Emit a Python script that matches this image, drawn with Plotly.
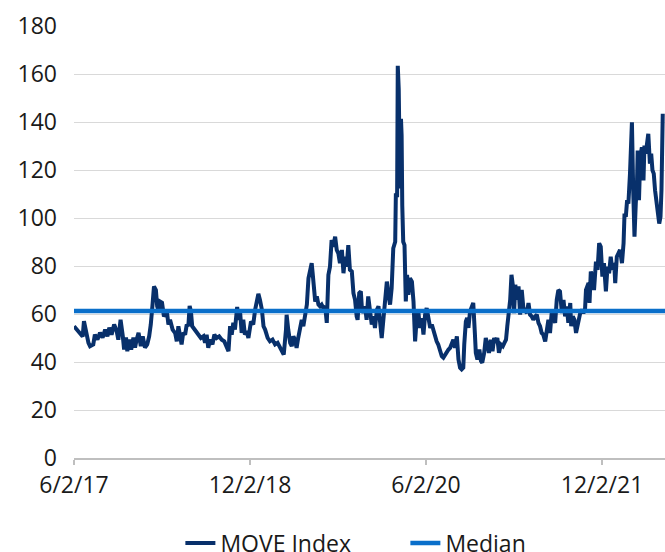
import pandas as pd
import plotly.graph_objects as go

# MOVE Index: days since 2017-06-02 and index level
start_date = "2017-06-02"
end_date = "2022-06-16"

day_offsets = [
    0, 8, 19, 27, 31, 37, 45, 50, 60, 65, 73, 81, 89, 97, 104, 110, 117, 125, 133, 138,
    145, 152, 156, 162, 166, 172, 178, 185, 190, 195, 201, 208, 214, 221, 228, 234, 239,
    245, 249, 255, 259, 264, 268, 274, 280, 289, 294, 299, 307, 315,
    320, 325, 330, 335, 340, 346, 351, 356, 360, 364, 368, 375, 382, 389, 395, 403, 408,
    413, 418, 424, 431, 437, 444, 452, 460, 468, 476, 481, 486, 491, 496, 501, 508, 512,
    517, 522, 527, 532, 538, 543, 551, 558, 564, 569, 574, 579, 585, 590, 595, 603, 610,
    618, 626, 634, 641, 649, 653,
    660, 662, 667, 673, 678, 683, 688, 693, 698, 704, 709, 714, 719, 725, 730, 735, 740,
    743, 747, 751, 756, 761, 766, 771, 776, 782, 787, 792, 797, 802, 807, 813, 818, 823,
    828, 834, 839, 844, 849, 854, 859, 865, 870, 875, 880, 883, 888, 893, 896, 901, 906,
    911, 916, 922, 927, 932, 937, 943, 948,
    958, 963, 968, 974, 979, 984, 989, 994, 1000, 1002, 1006, 1008, 1011, 1013, 1015,
    1018, 1020, 1022, 1025, 1029, 1033, 1037, 1041, 1046, 1052, 1057, 1062, 1067, 1072,
    1077, 1083, 1088, 1093, 1098, 1103, 1109, 1114, 1119, 1124, 1129, 1134, 1140, 1145,
    1150, 1155, 1161, 1166, 1171, 1176, 1181, 1186, 1192, 1197, 1202, 1207, 1212, 1215,
    1220, 1224, 1228, 1233, 1238, 1243,
    1248, 1251, 1256, 1262, 1267, 1271, 1277, 1282, 1287, 1292, 1298, 1303, 1308, 1313,
    1318, 1323, 1329, 1335, 1340, 1345, 1349, 1354, 1358, 1362, 1366, 1370, 1374, 1379,
    1384, 1389, 1394, 1399, 1404, 1410, 1415, 1420, 1425, 1430, 1436, 1441, 1446, 1451,
    1456, 1461, 1467, 1472, 1477, 1482, 1488, 1493, 1498, 1503, 1508, 1513, 1519, 1524,
    1529,
    1534, 1539, 1545, 1548, 1553, 1558, 1563, 1569, 1576, 1581, 1586, 1591, 1594, 1598,
    1602, 1605, 1609, 1614, 1619, 1625, 1630, 1635, 1640, 1645, 1650, 1656, 1661, 1666,
    1671, 1676, 1682, 1685, 1690, 1695, 1700, 1706, 1711, 1714, 1718, 1722, 1726, 1731,
    1734, 1737, 1741, 1745, 1749, 1753, 1755, 1759, 1763, 1768, 1773, 1776, 1780, 1783,
    1788, 1793, 1797, 1801, 1805, 1809, 1813, 1818, 1822, 1826, 1829, 1833,
]

move_values = [
    54.9, 53.5, 51.4, 50.6, 57.0, 52.8, 48.0, 46.6, 47.3, 51.4, 49.3, 52.2, 50.2, 53.5,
    50.7, 54.3, 51.4, 55.6, 52.8, 49.3, 57.6, 50.7, 45.2, 50.2, 44.5, 49.3, 45.2, 50.2,
    46.0, 49.3, 52.2, 46.6, 50.7, 46.0, 47.3, 50.7, 55.6, 64.7, 71.5, 70.0, 63.2, 61.1,
    65.2, 64.7, 59.0, 61.1, 55.6, 57.6, 53.5, 52.0,
    48.6, 54.9, 51.4, 47.3, 52.2, 51.4, 55.6, 54.9, 63.4, 61.1, 54.9, 53.5, 52.8, 51.4,
    50.0, 50.7, 48.0, 51.4, 45.9, 49.3, 47.3, 51.4, 50.0, 50.7, 49.3, 48.6, 45.9, 44.5,
    54.9, 51.4, 56.3, 53.5, 62.9, 57.6, 61.1, 52.1, 57.6, 51.4, 52.8, 50.0, 56.9, 55.6,
    61.8, 66.6, 68.4, 65.9, 61.8, 54.9, 53.5, 50.0, 48.6, 49.3, 47.3, 48.0, 45.9, 44.5,
    43.1,
    53.5, 59.7, 53.5, 48.0, 46.6, 50.7, 49.3, 45.9, 50.0, 53.5, 57.6, 54.9, 59.0, 63.9,
    74.9, 78.4, 81.2, 77.0, 71.5, 65.2, 67.3, 63.9, 63.2, 63.9, 62.5, 63.2, 56.3, 76.3,
    79.7, 90.8, 88.0, 92.2, 86.7, 85.3, 81.2, 86.7, 77.0, 83.9, 79.7, 88.7, 78.4, 77.7,
    68.7, 65.9, 59.0, 57.6, 68.7, 69.4, 63.2, 60.4, 63.2, 57.6, 67.3, 61.8, 55.6, 59.0,
    54.2, 61.8, 63.2,
    50.0, 56.9, 66.6, 73.5, 68.0, 63.9, 70.8, 87.4, 90.1, 109.5, 109.5, 163.4, 153.7,
    139.9, 112.3, 141.3, 134.4, 105.3, 90.1, 88.7, 65.2, 76.3, 68.0, 74.9, 73.5, 65.2,
    48.6, 58.3, 61.1, 54.2, 58.3, 51.4, 59.7, 62.5, 58.3, 54.2, 55.6, 52.8, 51.4, 48.6,
    47.3, 44.5, 42.4, 41.8, 43.1, 43.8, 45.2, 45.9, 47.3, 49.3, 45.9, 50.7, 41.0, 37.6,
    36.9, 37.6, 47.3, 56.9, 58.3, 54.2, 61.1, 62.5, 64.6,
    52.1, 43.8, 41.0, 45.2, 40.4, 39.7, 43.8, 50.0, 47.3, 43.8, 49.3, 44.5, 50.0, 48.0,
    50.0, 43.8, 47.3, 46.6, 48.0, 49.3, 54.9, 60.4, 65.9, 76.3, 72.2, 60.4, 72.2, 65.9,
    71.5, 59.7, 70.0, 62.5, 61.8, 60.4, 64.6, 59.7, 59.0, 57.6, 59.0, 59.7, 56.3, 54.9,
    52.1, 51.4, 48.6, 53.5, 57.6, 52.1, 61.8, 58.3, 56.3, 65.9, 70.0, 69.4, 60.4, 65.9,
    59.0,
    63.2, 56.3, 64.6, 54.9, 59.0, 57.6, 52.1, 56.3, 60.4, 61.8, 60.4, 61.8, 70.0, 71.5,
    72.9, 64.6, 77.7, 75.6, 70.0, 81.8, 78.4, 89.5, 88.0, 75.6, 81.2, 69.4, 79.7, 77.0,
    83.9, 78.4, 81.2, 72.9, 83.9, 85.3, 86.7, 81.2, 89.5, 101.9, 100.5, 107.4, 106.0,
    118.5, 128.1, 139.9, 111.6, 92.2, 106.0, 115.7, 128.1, 107.4, 125.4, 129.5, 115.7,
    130.2, 126.8, 131.6, 135.1, 122.6, 126.8, 119.9, 118.5, 111.6, 107.4, 99.1, 97.7,
    100.5, 111.6, 143.4,
]

median_value = 61.2

tick_dates = ["2017-06-02", "2018-12-02", "2020-06-02", "2021-12-02"]
y_ticks = [0, 20, 40, 60, 80, 100, 120, 140, 160, 180]

MOVE_COLOR = "#08306b"
MEDIAN_COLOR = "#0a6fca"
FONT = "Open Sans"

dates = pd.Timestamp(start_date) + pd.to_timedelta(day_offsets, unit="D")

fig = go.Figure()

fig.add_trace(go.Scatter(
    x=dates,
    y=move_values,
    mode="lines",
    name="MOVE Index",
    line=dict(color=MOVE_COLOR, width=4),
))

# median drawn across the whole span, on top of the index
fig.add_trace(go.Scatter(
    x=[start_date, end_date],
    y=[median_value, median_value],
    mode="lines",
    name="Median",
    line=dict(color=MEDIAN_COLOR, width=4.5),
))

fig.update_layout(
    width=665,
    height=552,
    margin=dict(l=74, r=0, t=26, b=94, autoexpand=False),
    plot_bgcolor="white",
    paper_bgcolor="white",
    font=dict(family=FONT, size=23, color="#1a1a1a"),
    showlegend=True,
    legend=dict(
        orientation="h",
        x=0.18,
        xanchor="left",
        y=-0.197,
        yanchor="middle",
        font=dict(family=FONT, size=23, color="#1a1a1a"),
        entrywidth=180,
        bgcolor="rgba(0,0,0,0)",
    ),
)

fig.update_xaxes(
    range=[start_date, end_date],
    tickvals=tick_dates,
    tickformat="%-m/%-d/%y",
    showgrid=False,
    showline=True,
    linecolor="#bfbfbf",
    linewidth=2,
    ticks="outside",
    ticklen=5,
    tickwidth=2,
    tickcolor="#bfbfbf",
    zeroline=False,
)

fig.update_yaxes(
    range=[0, 180],
    tickvals=y_ticks,
    showgrid=True,
    gridcolor="#d9d9d9",
    gridwidth=1,
    zeroline=False,
    showline=False,
    ticks="",
    ticklabelstandoff=16,
)

# page body margin would shift the figure 8px; pin it to the corner
fig.write_html(
    "out.html",
    config={"displayModeBar": False},
    post_script="document.body.style.margin='0px';",
)
